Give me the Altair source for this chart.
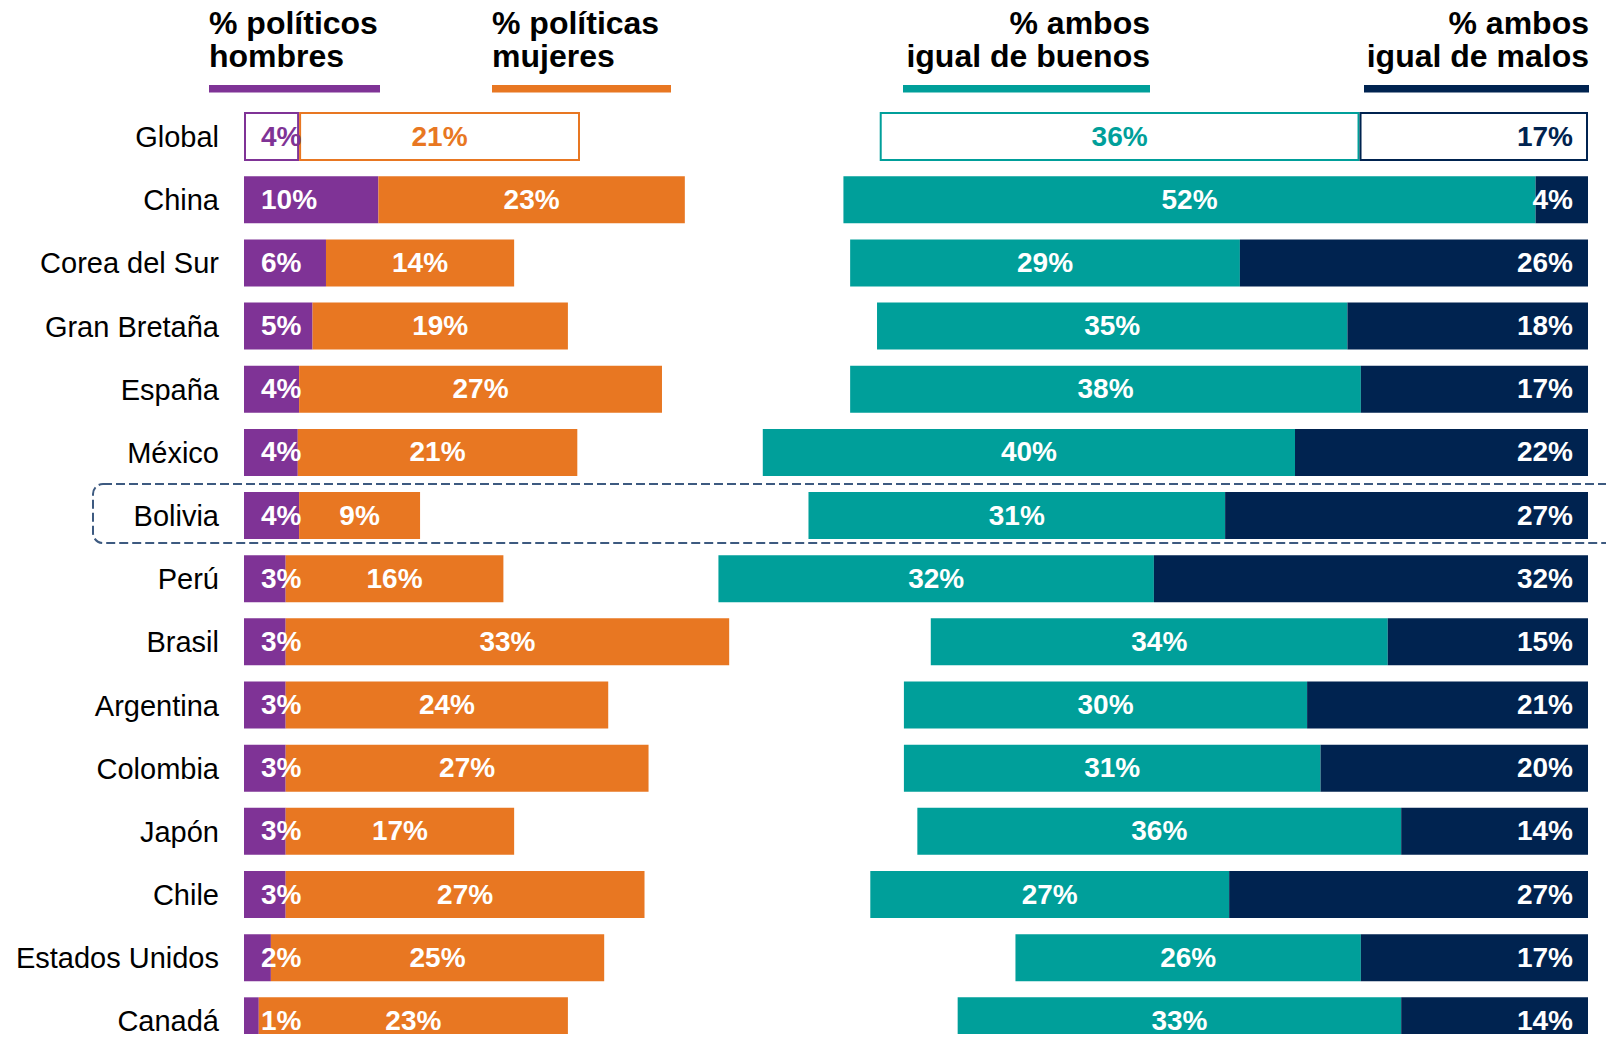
import altair as alt
import pandas as pd

# ---------------- data (bar lengths; labels are these rounded) ----------------
countries = ["Global", "China", "Corea del Sur", "Gran Bretaña", "España", "México",
             "Bolivia", "Perú", "Brasil", "Argentina", "Colombia", "Japón", "Chile",
             "Estados Unidos", "Canadá"]
men = [4.1, 10.0, 6.1, 5.1, 4.1, 4.0, 4.1, 3.1, 3.1, 3.1, 3.1, 3.1, 3.1, 2.0, 1.1]
women = [20.9, 22.8, 14.0, 19.0, 27.0, 20.8, 9.0, 16.2, 33.0, 24.0, 27.0, 17.0, 26.7, 24.8, 23.0]
good = [35.7, 51.5, 29.0, 35.0, 38.0, 39.6, 31.0, 32.4, 34.0, 30.0, 31.0, 36.0, 26.7, 25.7, 33.0]
bad = [17.0, 3.9, 25.9, 17.9, 16.9, 21.8, 27.0, 32.3, 14.9, 20.9, 19.9, 13.9, 26.7, 16.9, 13.9]

headers = ["% políticos\nhombres", "% políticas\nmujeres",
           "% ambos\u00a0\nigual de buenos", "% ambos\u00a0\nigual de malos"]
highlight = "Bolivia"

seg_keys = ["men", "women", "good", "bad"]
seg_colors = ["#7F3396", "#E87722", "#009F9A", "#002350"]
FONT = "Liberation Sans, Arial, Helvetica, sans-serif"
TOTAL = 100


def pct(v):
    return f"{int(v + 0.5)}%"


rows = []
for i, c in enumerate(countries):
    m, w, g, b = men[i], women[i], good[i], bad[i]
    for key, s, e, v in [("men", 0, m, m), ("women", m, m + w, w),
                         ("good", TOTAL - g - b, TOTAL - b, g), ("bad", TOTAL - b, TOTAL, b)]:
        rows.append({"country": c, "seg": key, "start": s, "end": e,
                     "mid": (s + e) / 2, "label": pct(v)})
long = pd.DataFrame(rows)
base_df = pd.DataFrame({"country": countries})

STEP = 63.16
yscale = alt.Scale(domain=countries, range=[0, STEP * len(countries)],
                   paddingInner=0.256, paddingOuter=0.128)
Y = alt.Y("country:N", sort=countries, scale=yscale, axis=None)
xscale = alt.Scale(domain=[0, TOTAL], nice=False, zero=False)
cscale = alt.Scale(domain=seg_keys, range=seg_colors)

base = alt.Chart(long)

bars = base.mark_bar().encode(
    y=Y,
    x=alt.X("start:Q", scale=xscale, axis=None),
    x2="end:Q",
    color=alt.Color("seg:N", scale=cscale, legend=None),
).transform_filter(alt.datum.country != "Global")

gbars = base.mark_bar(fill="white", strokeWidth=2, xOffset=1, x2Offset=-1).encode(
    y=Y,
    x=alt.X("start:Q", scale=xscale, axis=None),
    x2="end:Q",
    stroke=alt.Stroke("seg:N", scale=cscale, legend=None),
).transform_filter(alt.datum.country == "Global")

txt_color = alt.condition(alt.datum.country == "Global",
                          alt.Color("seg:N", scale=cscale, legend=None),
                          alt.value("white"))


def seg_text(key, field, align, dx):
    return base.mark_text(align=align, baseline="middle", dx=dx, dy=1,
                          font=FONT, fontSize=28, fontWeight="bold").encode(
        y=Y,
        x=alt.X(f"{field}:Q", scale=xscale, axis=None),
        text="label:N",
        color=txt_color,
    ).transform_filter(alt.datum.seg == key)


t_men = seg_text("men", "start", "left", 17)
t_women = seg_text("women", "mid", "center", 0)
t_good = seg_text("good", "mid", "center", 0)
t_bad = seg_text("bad", "end", "right", -15)

labels = alt.Chart(base_df).mark_text(
    align="right", baseline="middle", dy=1.5, font=FONT, fontSize=29, color="black"
).encode(y=Y, x=alt.value(-25), text="country:N")

box = alt.Chart(base_df).mark_bar(
    height=59, yOffset=-2, cornerRadius=10, fill="transparent",
    stroke="#3D5A80", strokeWidth=2, strokeDash=[9, 4]
).encode(y=Y, x=alt.value(-151), x2=alt.value(1400)).transform_filter(
    alt.datum.country == highlight)

# headers
header_layers = []
hpos = [(-35, "left"), (248, "left"), (906, "right"), (1345, "right")]
lines = [(-35, 136), (248, 427), (659, 906), (1120, 1345)]
for i, h in enumerate(headers):
    x, al = hpos[i]
    header_layers.append(
        alt.Chart(pd.DataFrame({"t": [h]})).mark_text(
            align=al, baseline="alphabetic", lineBreak="\n", lineHeight=32.5,
            font=FONT, fontSize=32, fontWeight="bold", color="black"
        ).encode(x=alt.value(x), y=alt.value(-71), text="t:N")
    )
    x1, x2 = lines[i]
    header_layers.append(
        alt.Chart(pd.DataFrame({"k": [seg_keys[i]]})).mark_rect(color=seg_colors[i]).encode(
            x=alt.value(x1), x2=alt.value(x2), y=alt.value(-20), y2=alt.value(-12.5)
        )
    )

chart = alt.layer(
    bars, gbars, t_men, t_women, t_good, t_bad, labels, box, *header_layers
).properties(
    width=1344, height=929,
    padding={"left": 236, "top": 97, "right": 18, "bottom": 0},
    autosize=alt.AutoSizeParams(type="none"),
).configure_view(stroke=None)

chart.save("out.html", embed_options={"renderer": "svg", "actions": False})
